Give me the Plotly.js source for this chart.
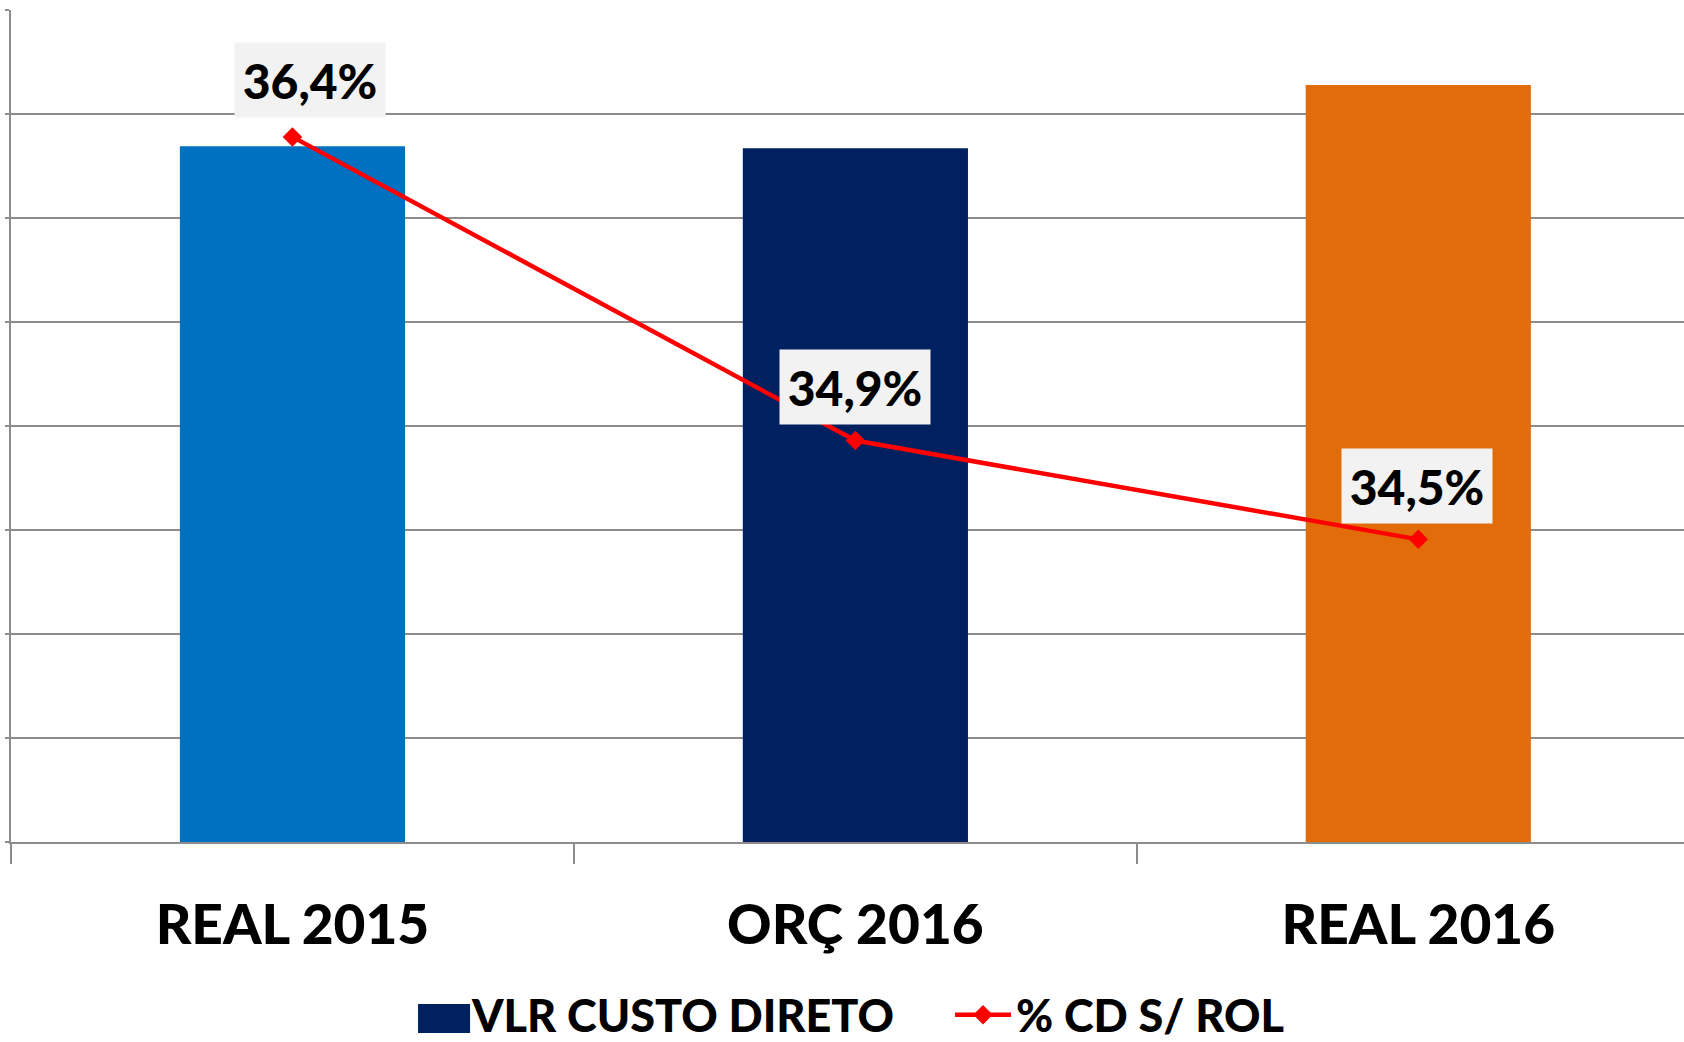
<!DOCTYPE html>
<html><head><meta charset="utf-8">
<script src="https://cdn.plot.ly/plotly-3.0.1.min.js"></script>
<style>html,body{margin:0;padding:0;background:#fff}#chart{width:1684px;height:1042px}</style>
</head><body><div id="chart"></div>
<script>
// ---- data ----
const categories = ['REAL 2015', 'ORÇ 2016', 'REAL 2016'];
const custoDireto = [33.45, 33.35, 36.4];
const pctCdRol = [36.39, 34.93, 34.455];
const barColors = ['#0070C0', '#002060', '#E36C0A'];
const seriesNames = ['VLR CUSTO DIRETO', '% CD S/ ROL'];

// ---- style ----
const FONT = 'Lato, "Open Sans", sans-serif';
const WEIGHT = 900;
const GRAY = '#8C8C8C';
const labelShift = [[18, 57], [0, 54], [-1, 53]];

const fmtPct = v => v.toFixed(1).replace('.', ',') + '%';

const traces = [
  {
    type: 'bar', name: seriesNames[0], x: categories, y: custoDireto,
    marker: {color: barColors}, width: 0.4, showlegend: false, hoverinfo: 'skip'
  },
  {
    type: 'bar', name: seriesNames[0], x: [categories[0]], y: [null],
    marker: {color: barColors[1]}, width: 0.4, showlegend: true, hoverinfo: 'skip'
  },
  {
    type: 'scatter', mode: 'lines+markers', name: seriesNames[1],
    x: categories, y: pctCdRol, yaxis: 'y2',
    line: {color: '#FF0000', width: 4.5},
    marker: {symbol: 'diamond', size: 15, color: '#FF0000'},
    cliponaxis: false, hoverinfo: 'skip'
  }
];

const annotations = categories.map((c, i) => ({
  x: c, y: pctCdRol[i], xref: 'x', yref: 'y2',
  text: fmtPct(pctCdRol[i]), showarrow: false,
  font: {family: FONT, size: 48, color: '#000', weight: WEIGHT},
  bgcolor: '#F2F2F2', borderpad: 0, width: 150, height: 74,
  xshift: labelShift[i][0], yshift: labelShift[i][1]
}));

// larger legend swatch for the bar series (legend decoration)
const swatch = {
  type: 'rect', xref: 'paper', yref: 'paper', layer: 'above',
  x0: 0.2433, x1: 0.2744, y0: -0.2296, y1: -0.1947,
  fillcolor: barColors[1], line: {width: 0}
};

const layout = {
  width: 1684, height: 1042,
  margin: {l: 11, r: 0, t: 10, b: 200, pad: 0},
  paper_bgcolor: '#fff', plot_bgcolor: '#fff',
  barmode: 'overlay',
  showlegend: true,
  xaxis: {
    type: 'category', range: [-0.5, 2.472], automargin: false,
    tickson: 'boundaries', ticks: 'outside', ticklen: 20, tickwidth: 1.5, tickcolor: GRAY,
    showline: true, linecolor: GRAY, linewidth: 2, showgrid: false, zeroline: false,
    tickfont: {family: FONT, size: 55, color: '#000', weight: WEIGHT},
    ticklabelstandoff: 34, fixedrange: true
  },
  yaxis: {
    range: [0, 40], dtick: 5, automargin: false,
    showgrid: true, gridcolor: GRAY, gridwidth: 1.5,
    showline: true, linecolor: GRAY, linewidth: 2,
    ticks: 'outside', ticklen: 4, tickwidth: 1.5, tickcolor: GRAY,
    showticklabels: false, zeroline: false, fixedrange: true
  },
  yaxis2: {
    overlaying: 'y', side: 'right', range: [33, 37], visible: false, fixedrange: true
  },
  legend: {
    orientation: 'h', xref: 'container', yref: 'container',
    x: 0.2411, xanchor: 'left', y: 0.026, yanchor: 'middle',
    font: {family: FONT, size: 45, color: '#000', weight: WEIGHT},
    itemwidth: 56, entrywidth: 473, entrywidthmode: 'pixels',
    bgcolor: 'rgba(0,0,0,0)', traceorder: 'normal'
  },
  shapes: [swatch],
  annotations: annotations
};

Plotly.newPlot('chart', traces, layout, {displayModeBar: false, staticPlot: true});
</script>
</body></html>
